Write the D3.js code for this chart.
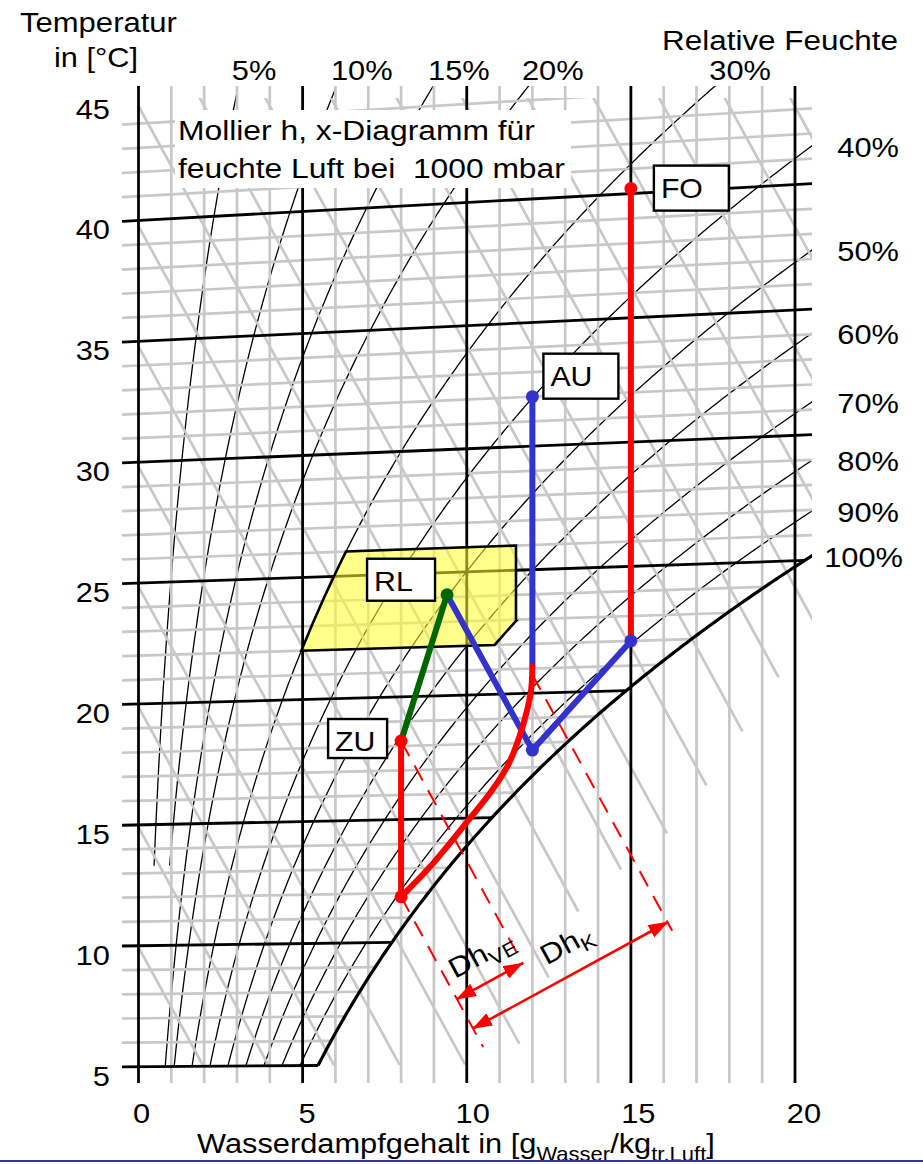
<!DOCTYPE html>
<html lang="de">
<head>
<meta charset="utf-8">
<title>Mollier h,x-Diagramm</title>
<script src="https://cdn.jsdelivr.net/npm/d3@7/dist/d3.min.js"></script>
<style>
  html, body { margin: 0; padding: 0; background: #fff; }
  svg { display: block; }
  text { font-family: "Liberation Sans", Arial, Helvetica, sans-serif; fill: #000; white-space: pre; }
</style>
</head>
<body>
<svg id="chart" width="923" height="1164"></svg>
<script>
// ---------------- data ----------------
const pressureMbar = 1000;
const xTickValues = [0, 5, 10, 15, 20];                 // g/kg
const tTickValues = [5, 10, 15, 20, 25, 30, 35, 40, 45]; // °C
const rhLevels = [5, 10, 15, 20, 30, 40, 50, 60, 70, 80, 90, 100]; // %
const rhShortLevels = [5, 10];          // curves that begin higher up
const rhShortStartT = 13.3;             // °C
const rhTopLabelLevels = [5, 10, 15, 20, 30];
const rhSideLabelLevels = [40, 50, 60, 70, 80, 90, 100];
const enthalpyLevels = [10, 15, 20, 25, 30, 35, 40, 45, 50, 55, 60, 65, 70, 75, 80, 85, 90, 95]; // kJ/kg
const enthalpyStopH = [35, 40, 45, 50, 55, 60, 65, 70];
const enthalpyStopX = [11.6, 12.5, 13.4, 14.7, 16.1, 17.3, 18.4, 19.5];

// comfort zone
const comfortT = [22, 26];      // °C
const comfortRh = [30, 65];     // %
const comfortXMax = 11.5;       // g/kg

// labelled states
const stateNames = ["AU", "FO", "RL", "ZU"];
const stateX = [12, 15, 9.4, 8];
const stateT = [32.0, 40.2, 24.1, 18.2];
const stateColors = ["#3333cc", "#ff0000", "#006600", "#ff0000"];

// process lines (water content g/kg, temperature °C)
const blueDownX = [12, 12];              const blueDownT = [32.0, 21.06];
const blueVX = [9.4, 12, 15];            const blueVT = [24.1, 17.7, 22.0];
const redUpX = [15, 15];                 const redUpT = [22.0, 40.2];
const redDownX = [8, 8];                 const redDownT = [18.2, 11.85];
const redCurveX = [8.0, 8.88, 10.01, 10.71, 11.26, 11.62, 11.84, 11.96, 12.0];
const redCurveT = [11.85, 13.05, 14.85, 16.0, 17.12, 18.32, 19.33, 20.13, 21.06];
const greenX = [8, 9.4];                 const greenT = [18.2, 24.1];
const extraDotX = [8, 12, 15];           const extraDotT = [11.85, 17.7, 22.0];
const extraDotColors = ["#ff0000", "#3333cc", "#3333cc"];

// enthalpy differences (dashed isenthalps and dimension arrows)
const dashFromX = [8, 8, 12];
const dashFromT = [18.2, 11.85, 20.75];
const dashToX = [11.72, 10.5, 16.26];
const arrowBase = 1;                 // index of the dashed line the arrows start on
const arrowTarget = [0, 2];
const arrowBaseX = [9.70, 10.19];
const arrowSub = ["VE", "K"];

// ---------------- psychrometrics ----------------
const ps = t => 6.112 * Math.exp(17.62 * t / (243.12 + t));           // mbar
const xAt = (t, phi) => { const p = phi * ps(t); return 622 * p / (pressureMbar - p); };
const ordinate = (xw, t) => t * (1 + 1.86 * xw / 1006);                 // skewed Mollier ordinate
const enthalpy = (xw, t) => 1.006 * t + xw * (2.501 + 0.00186 * t);     // kJ/kg
const isenthalpOrd = (h, xw) => (h - 2.501 * xw) / 1.006;
function solveT(f, lo, hi) { for (let i = 0; i < 60; i++) { const m = (lo + hi) / 2; if (f(m) > 0) hi = m; else lo = m; } return (lo + hi) / 2; }

// ---------------- layout ----------------
const svg = d3.select("#chart");
const x = d3.scaleLinear().domain([0, 20]).range([138.5, 795]);
const y = d3.scaleLinear().domain([5, 45]).range([1066.7, 99.5]);
const X_LEFT = -0.5, X_RIGHT = 20.52;
const TOP_FRAME = 86, TOP_GRID = 98, BOTTOM_FRAME = 1083;
const GREY = "#c8c8c8";

const lineXT = d3.line().x(d => x(d[0])).y(d => y(ordinate(d[0], d[1])));
const lineXY = d3.line().x(d => x(d[0])).y(d => y(d[1]));
const zip = (a, b) => a.map((v, i) => [v, b[i]]);

const defs = svg.append("defs");
defs.append("clipPath").attr("id", "clipFrame").append("rect")
  .attr("x", x(X_LEFT)).attr("y", TOP_FRAME)
  .attr("width", x(X_RIGHT) - x(X_LEFT)).attr("height", BOTTOM_FRAME - TOP_FRAME);
defs.append("clipPath").attr("id", "clipGrid").append("rect")
  .attr("x", x(X_LEFT)).attr("y", TOP_GRID)
  .attr("width", x(X_RIGHT) - x(X_LEFT)).attr("height", BOTTOM_FRAME - TOP_GRID);
defs.append("marker").attr("id", "head").attr("viewBox", "0 0 20 14")
  .attr("markerUnits", "userSpaceOnUse").attr("markerWidth", 20).attr("markerHeight", 14)
  .attr("refX", 19).attr("refY", 7).attr("orient", "auto-start-reverse")
  .append("path").attr("d", "M0,0 L20,7 L0,14 Z").attr("fill", "#ff0000");

function rhPoints(phi, t0, t1) {
  const pts = [];
  for (let t = t0; t <= t1 + 1e-9; t += 0.1) {
    const xw = xAt(t, phi);
    pts.push([xw, t]);
    if (xw > X_RIGHT + 0.3) break;
  }
  return pts;
}

// ---------------- relative humidity curves ----------------
const gRh = svg.append("g").attr("clip-path", "url(#clipFrame)");
rhLevels.filter(r => r < 100).forEach(r => {
  const t0 = rhShortLevels.includes(r) ? rhShortStartT : 5;
  gRh.append("path").attr("d", lineXT(rhPoints(r / 100, t0, 45)))
    .attr("fill", "none").attr("stroke", "#000").attr("stroke-width", 1.3);
});

// ---------------- grey grid ----------------
const gGrey = svg.append("g");
d3.range(1, 20).filter(v => v % 5).forEach(v => {
  gGrey.append("line").attr("x1", x(v)).attr("x2", x(v)).attr("y1", TOP_FRAME).attr("y2", BOTTOM_FRAME)
    .attr("stroke", GREY).attr("stroke-width", 2.7);
});
const gGreyClip = svg.append("g").attr("clip-path", "url(#clipGrid)");
d3.range(6, 45).filter(t => t % 5).forEach(t => {
  const xe = Math.min(xAt(t, 1), X_RIGHT);
  gGreyClip.append("path").attr("d", lineXT([[X_LEFT, t], [xe, t]]))
    .attr("stroke", GREY).attr("stroke-width", 2.7).attr("fill", "none");
});
enthalpyLevels.forEach(h => {
  let xe;
  if (h <= 30) xe = (h - 1.006 * 5) / (2.501 + 0.00186 * 5);
  else { const i = enthalpyStopH.indexOf(h); xe = i >= 0 ? enthalpyStopX[i] : X_RIGHT + 1; }
  gGreyClip.append("path").attr("d", lineXY([[0, isenthalpOrd(h, 0)], [xe, isenthalpOrd(h, xe)]]))
    .attr("stroke", GREY).attr("stroke-width", 2.7).attr("fill", "none");
});

// ---------------- black isotherms, verticals, saturation ----------------
const gBlack = svg.append("g");
tTickValues.filter(t => t <= 40).forEach(t => {
  const xe = Math.min(xAt(t, 1), X_RIGHT);
  gBlack.append("path").attr("d", lineXT([[X_LEFT, t], [xe, t]]))
    .attr("stroke", "#000").attr("stroke-width", 2.8).attr("fill", "none");
});
xTickValues.forEach(v => {
  gBlack.append("line").attr("x1", x(v)).attr("x2", x(v)).attr("y1", TOP_FRAME).attr("y2", BOTTOM_FRAME)
    .attr("stroke", "#000").attr("stroke-width", 2.8);
});
gBlack.append("path").attr("clip-path", "url(#clipFrame)")
  .attr("d", lineXT(rhPoints(1, 5, 45)))
  .attr("fill", "none").attr("stroke", "#000").attr("stroke-width", 3.2);

// ---------------- text helper ----------------
function addText(parent, parts, px, py, opts = {}) {
  const { size = 28, anchor = "start", sx = 1.1, width = null, angle = 0 } = opts;
  const g = parent.append("g");
  const t = g.append("text").attr("font-size", size).attr("xml:space", "preserve");
  (typeof parts === "string" ? [{ s: parts }] : parts).forEach(p => {
    t.append("tspan").text(p.s).attr("font-size", p.size || size).attr("dy", p.dy || 0);
  });
  const w = t.node().getComputedTextLength();
  const k = width ? width / w : sx;
  const shift = anchor === "end" ? -w : anchor === "middle" ? -w / 2 : 0;
  t.attr("x", shift).attr("y", 0);
  g.attr("transform", `translate(${px},${py}) rotate(${angle}) scale(${k},1)`);
  return g;
}

// title box inside the diagram
const gBox = svg.append("g");
gBox.append("rect").attr("x", 175).attr("y", 110).attr("width", 396).attr("height", 78).attr("fill", "#fff");
addText(gBox, "Mollier h, x-Diagramm für", 178, 140, { width: 357 });
addText(gBox, "feuchte Luft bei  1000 mbar", 178, 178, { width: 387 });

// ---------------- comfort zone ----------------
const zone = [];
for (let t = comfortT[0]; t <= comfortT[1] + 1e-9; t += 0.25) zone.push([xAt(t, comfortRh[0] / 100), t]);
zone.push([comfortXMax, comfortT[1]]);
const tCorner = solveT(t => xAt(t, comfortRh[1] / 100) - comfortXMax, 0, 40);
zone.push([comfortXMax, tCorner]);
for (let t = tCorner; t >= comfortT[0] - 1e-9; t -= 0.25) zone.push([xAt(t, comfortRh[1] / 100), t]);
zone.push([xAt(comfortT[0], comfortRh[1] / 100), comfortT[0]]);
svg.append("path").attr("d", lineXT(zone) + "Z")
  .attr("fill", "rgb(255,255,40)").attr("fill-opacity", 0.55)
  .attr("stroke", "#000").attr("stroke-width", 2.6).attr("stroke-linejoin", "miter");

// ---------------- isenthalps and enthalpy differences ----------------
const gDash = svg.append("g");
const dashH = dashFromX.map((v, i) => enthalpy(v, dashFromT[i]));
dashH.forEach((h, i) => {
  gDash.append("path").attr("d", lineXY([[dashFromX[i], isenthalpOrd(h, dashFromX[i])], [dashToX[i], isenthalpOrd(h, dashToX[i])]]))
    .attr("stroke", "#ff0000").attr("stroke-width", 2).attr("stroke-dasharray", "17,11").attr("fill", "none");
});
const px = (xw, Y) => [x(xw), y(Y)];
const a0 = px(0, isenthalpOrd(50, 0)), a1 = px(1, isenthalpOrd(50, 1));
const dl = Math.hypot(a1[0] - a0[0], a1[1] - a0[1]);
const dir = [(a1[0] - a0[0]) / dl, (a1[1] - a0[1]) / dl];   // along isenthalp (down-right)
const nrm = [dir[1], -dir[0]];                                // perpendicular (up-right)
const angle = Math.atan2(nrm[1], nrm[0]) * 180 / Math.PI;
const labelAlong = [8, 95], labelPerp = [18.5, 20];
arrowBaseX.forEach((xb, i) => {
  const A = px(xb, isenthalpOrd(dashH[arrowBase], xb));
  const j = arrowTarget[i];
  const B0 = px(dashFromX[j], isenthalpOrd(dashH[j], dashFromX[j]));
  const s = (B0[0] - A[0]) * nrm[0] + (B0[1] - A[1]) * nrm[1];
  const B = [A[0] + s * nrm[0], A[1] + s * nrm[1]];
  gDash.append("line").attr("x1", A[0]).attr("y1", A[1]).attr("x2", B[0]).attr("y2", B[1])
    .attr("stroke", "#ff0000").attr("stroke-width", 2.6)
    .attr("marker-start", "url(#head)").attr("marker-end", "url(#head)");
  const L = [A[0] + labelAlong[i] * nrm[0] - labelPerp[i] * dir[0], A[1] + labelAlong[i] * nrm[1] - labelPerp[i] * dir[1]];
  addText(svg, [{ s: "Dh" }, { s: arrowSub[i], size: 20, dy: 7 }], L[0], L[1], { angle: angle, sx: 1.12 });
});

// ---------------- process lines ----------------
const gProc = svg.append("g").attr("fill", "none").attr("stroke-width", 6).attr("stroke-linejoin", "round");
gProc.append("path").attr("d", lineXT(zip(greenX, greenT))).attr("stroke", "#006600");
gProc.append("path").attr("d", lineXT(zip(blueDownX, blueDownT))).attr("stroke", "#3333cc");
gProc.append("path").attr("d", lineXT(zip(blueVX, blueVT))).attr("stroke", "#3333cc");
gProc.append("path").attr("d", lineXT(zip(redUpX, redUpT))).attr("stroke", "#ff0000");
gProc.append("path").attr("d", lineXT(zip(redDownX, redDownT))).attr("stroke", "#ff0000");
gProc.append("path").attr("d", d3.line().curve(d3.curveCatmullRom.alpha(0.5))
  .x(d => x(d[0])).y(d => y(ordinate(d[0], d[1])))(zip(redCurveX, redCurveT)))
  .attr("stroke", "#ff0000").attr("stroke-linecap", "round");

const gDots = svg.append("g");
extraDotX.forEach((v, i) => gDots.append("circle").attr("cx", x(v)).attr("cy", y(ordinate(v, extraDotT[i])))
  .attr("r", 6.5).attr("fill", extraDotColors[i]));
stateX.forEach((v, i) => gDots.append("circle").attr("cx", x(v)).attr("cy", y(ordinate(v, stateT[i])))
  .attr("r", 6.5).attr("fill", stateColors[i]));

// state labels in framed boxes (offsets relative to the state point)
const boxLayout = {
  AU: { dx: 11, dy: -43, w: 75, h: 45 },
  FO: { dx: 23, dy: -23, w: 75, h: 45 },
  RL: { dx: -80, dy: -36, w: 68, h: 42 },
  ZU: { dx: -73, dy: -22, w: 59, h: 39 }
};
stateNames.forEach((n, i) => {
  const cx = x(stateX[i]), cy = y(ordinate(stateX[i], stateT[i]));
  const b = boxLayout[n];
  svg.append("rect").attr("x", cx + b.dx).attr("y", cy + b.dy).attr("width", b.w).attr("height", b.h)
    .attr("fill", "#fff").attr("stroke", "#000").attr("stroke-width", 2.4);
  addText(svg, n, cx + b.dx + 7, cy + b.dy + 32, { sx: 1.08 });
});

// ---------------- axes text ----------------
const gTxt = svg.append("g");
tTickValues.forEach(t => addText(gTxt, String(t), 110, y(t) + 19, { anchor: "end" }));
xTickValues.forEach(v => addText(gTxt, String(v), x(v) + 3 + 0.3 * v, 1123, { anchor: "middle" }));
addText(gTxt, "Temperatur", 20, 32, { width: 157 });
addText(gTxt, "in [°C]", 54, 67, { width: 84 });
addText(gTxt, "Relative Feuchte", 662, 50, { width: 236 });
addText(gTxt, [
  { s: "Wasserdampfgehalt in [g" },
  { s: "Wasser", size: 20, dy: 8 },
  { s: "/kg", dy: -8 },
  { s: "tr.Luft", size: 20, dy: 8 },
  { s: "]", dy: -8 }
], 197, 1153, { width: 518 });

// relative humidity labels
rhTopLabelLevels.forEach(r => {
  const pts = rhPoints(r / 100, 5, 45).map(d => [x(d[0]), y(ordinate(d[0], d[1]))]);
  const top = pts.filter(p => p[1] >= TOP_FRAME).pop();
  addText(gTxt, r + "%", top[0] - 5, 80);
});
rhSideLabelLevels.forEach(r => {
  const t = solveT(tt => xAt(tt, r / 100) - X_RIGHT, -10, 80);
  addText(gTxt, r + "%", r === 100 ? 903 : 899, y(ordinate(X_RIGHT, t)) + 11, { anchor: "end" });
});

// bottom rule
svg.append("line").attr("x1", 0).attr("x2", 923).attr("y1", 1161).attr("y2", 1161)
  .attr("stroke", "#333399").attr("stroke-width", 2);
</script>
</body>
</html>
